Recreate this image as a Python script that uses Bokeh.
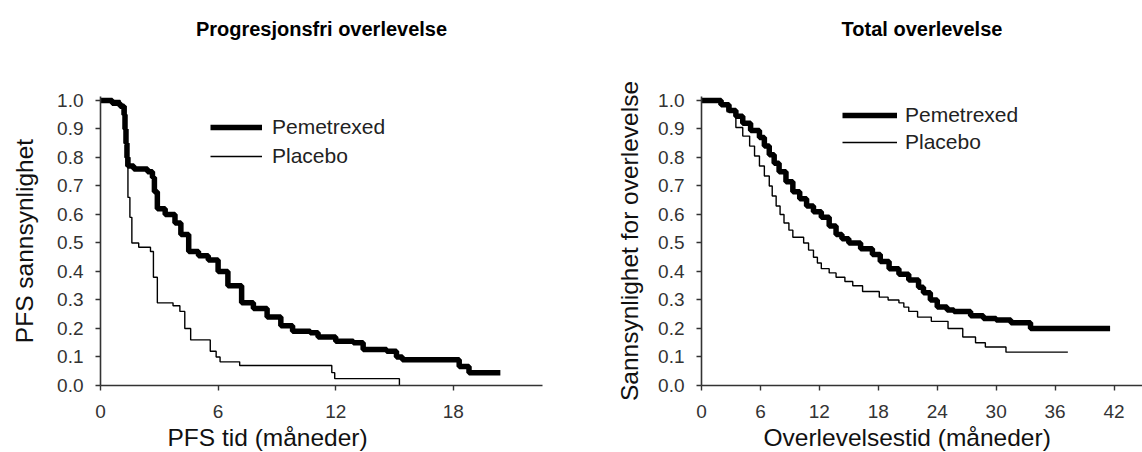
from bokeh.plotting import figure
from bokeh.layouts import row
from bokeh.models import Legend, LegendItem, Range1d, NumeralTickFormatter, Title
from bokeh.embed import file_html
from bokeh.resources import INLINE

# ---------------- data ----------------
# Left panel: progression-free survival
pfs_pem_t = [0, 0.6, 1.0, 1.2, 1.25, 1.3, 1.35, 1.4, 1.7, 2.4, 2.65, 2.75, 2.9, 3.3, 3.8, 4.1, 4.5,
             5.0, 5.5, 6.0, 6.5, 7.2, 7.8, 8.5, 9.2, 9.8, 10.7, 11.1, 12.0, 12.9, 13.4, 14.6, 15.1,
             15.4, 18.3, 18.8, 20.4]
pfs_pem_s = [1.0, 0.99, 0.98, 0.95, 0.90, 0.85, 0.80, 0.77, 0.76, 0.75, 0.73, 0.68, 0.62, 0.60, 0.57,
             0.53, 0.47, 0.455, 0.44, 0.40, 0.35, 0.29, 0.27, 0.24, 0.21, 0.19, 0.185, 0.17, 0.155,
             0.15, 0.126, 0.12, 0.10, 0.09, 0.067, 0.045, 0.045]
pfs_pla_t = [0, 1.0, 1.3, 1.4, 1.5, 1.6, 1.95, 2.55, 2.7, 2.9, 3.7, 4.05, 4.3, 4.6, 5.6, 5.9, 6.1,
             7.1, 11.8, 11.95, 15.25, 15.25]
pfs_pla_s = [1.0, 0.98, 0.77, 0.66, 0.59, 0.50, 0.485, 0.47, 0.38, 0.29, 0.28, 0.26, 0.20, 0.16,
             0.12, 0.10, 0.083, 0.07, 0.045, 0.024, 0.024, 0.0]

# Right panel: overall survival
os_pem_t = [0, 1.5, 2.0, 2.8, 3.5, 4.2, 5.0, 5.9, 6.4, 6.9, 7.4, 7.9, 8.6, 9.3, 10.0, 10.7, 11.4,
            12.2, 13.0, 13.7, 14.3, 15.0, 16.2, 17.4, 18.2, 19.1, 20.1, 21.1, 22.1, 22.6, 23.3,
            24.0, 25.0, 25.7, 27.4, 28.7, 30.0, 31.5, 33.5, 41.6]
os_pem_s = [1.0, 1.0, 0.985, 0.965, 0.945, 0.92, 0.895, 0.87, 0.84, 0.81, 0.78, 0.75, 0.715, 0.68,
            0.655, 0.63, 0.61, 0.59, 0.56, 0.53, 0.515, 0.50, 0.48, 0.46, 0.435, 0.41, 0.39, 0.37,
            0.345, 0.325, 0.30, 0.275, 0.265, 0.26, 0.245, 0.235, 0.23, 0.22, 0.20, 0.20]
os_pla_t = [0, 1.8, 2.6, 3.5, 4.2, 4.9, 5.4, 5.9, 6.4, 6.9, 7.2, 7.6, 8.0, 8.4, 8.9, 9.3, 10.4,
            10.9, 11.4, 11.8, 12.2, 13.0, 13.7, 14.6, 15.4, 16.4, 18.1, 19.0, 20.1, 20.6, 21.1,
            22.0, 23.4, 25.1, 26.6, 27.9, 28.9, 31.0, 37.3]
os_pla_s = [1.0, 0.985, 0.96, 0.905, 0.875, 0.84, 0.805, 0.77, 0.735, 0.70, 0.665, 0.63, 0.60,
            0.57, 0.545, 0.52, 0.50, 0.475, 0.45, 0.43, 0.41, 0.395, 0.38, 0.365, 0.35, 0.33, 0.31,
            0.30, 0.29, 0.275, 0.26, 0.24, 0.225, 0.20, 0.17, 0.15, 0.135, 0.117, 0.117]

y_ticks = [0.0, 0.1, 0.2, 0.3, 0.4, 0.5, 0.6, 0.7, 0.8, 0.9, 1.0]
pfs_x_ticks = [0, 6, 12, 18]
os_x_ticks = [0, 6, 12, 18, 24, 30, 36, 42]
series_names = ["Pemetrexed", "Placebo"]

FONT = "Liberation Sans"


def panel(title, xlab, ylab, x_end, x_ticks, pem_t, pem_s, pla_t, pla_s,
          border_left, border_right, frame_w, title_offset, xlab_offset,
          ylab_standoff, legend_loc, legend_pitch, glyph_w, standoff):
    p = figure(width=border_left + border_right + frame_w, height=452,
               x_range=Range1d(0, x_end), y_range=Range1d(0, 1.014),
               output_backend="svg", toolbar_location=None,
               min_border_left=border_left, min_border_right=border_right,
               min_border_top=96, min_border_bottom=66)
    p.outline_line_color = None
    p.xgrid.visible = False
    p.ygrid.visible = False
    p.background_fill_color = "white"
    p.border_fill_color = "white"

    for ax in (p.xaxis[0], p.yaxis[0]):
        ax.axis_line_color = "#333333"
        ax.axis_line_width = 1.6
        ax.major_tick_line_color = "#333333"
        ax.major_tick_line_width = 1.4
        ax.major_tick_out = 5
        ax.major_tick_in = 0
        ax.minor_tick_line_color = None
        ax.major_label_text_font = FONT
        ax.major_label_text_font_size = "19px"
        ax.major_label_text_color = "#333333"
    p.xaxis.ticker = x_ticks
    p.yaxis.ticker = y_ticks
    p.yaxis.formatter = NumeralTickFormatter(format="0.0")
    p.xaxis.major_label_standoff = 14
    p.yaxis.major_label_standoff = 12

    # y axis label
    p.yaxis.axis_label = ylab
    p.yaxis.axis_label_text_font = FONT
    p.yaxis.axis_label_text_font_size = "24.5px"
    p.yaxis.axis_label_text_font_style = "normal"
    p.yaxis.axis_label_text_color = "#111111"
    p.yaxis.axis_label_standoff = ylab_standoff

    r1 = p.step(pem_t, pem_s, mode="after", line_color="black", line_width=5.5)
    r2 = p.step(pla_t, pla_s, mode="after", line_color="black", line_width=1.4)

    legend = Legend(items=[LegendItem(label=series_names[0], renderers=[r1]),
                           LegendItem(label=series_names[1], renderers=[r2])],
                    location=legend_loc, orientation="vertical",
                    border_line_color=None, background_fill_alpha=0,
                    padding=0, margin=0, spacing=legend_pitch - 24,
                    label_height=24, glyph_height=24, glyph_width=glyph_w,
                    label_standoff=standoff,
                    label_text_font=FONT, label_text_font_size="21px",
                    label_text_color="#222222")
    p.add_layout(legend)

    # default title kept minimal
    p.title.text = ""
    p.title.standoff = 0
    p.title.text_font_size = "1px"
    # spacer (closest to frame) and then the real chart title above it
    p.add_layout(Title(text=" ", text_font_size="1px", standoff=54), "above")
    p.add_layout(Title(text=title, align="center", offset=title_offset, standoff=0,
                       text_font=FONT, text_font_size="20px", text_font_style="bold",
                       text_color="black"), "above")
    # x axis label as a title below the axis, shifted horizontally
    p.add_layout(Title(text=xlab, align="left", offset=xlab_offset, standoff=3,
                       text_font=FONT, text_font_size="24.5px", text_font_style="normal",
                       text_color="#111111"), "below")
    return p


p1 = panel("Progresjonsfri overlevelse", "PFS tid (måneder)", "PFS sannsynlighet",
           22.55, pfs_x_ticks, pfs_pem_t, pfs_pem_s, pfs_pla_t, pfs_pla_s,
           border_left=100, border_right=29, frame_w=442, title_offset=-11, xlab_offset=67,
           ylab_standoff=16, legend_loc=(110, 217), legend_pitch=29,
           glyph_w=52, standoff=10)
p2 = panel("Total overlevelse", "Overlevelsestid (måneder)", "Sannsynlighet for overlevelse",
           44.9, os_x_ticks, os_pem_t, os_pem_s, os_pla_t, os_pla_s,
           border_left=130, border_right=0, frame_w=441, title_offset=-4, xlab_offset=62,
           ylab_standoff=12, legend_loc=(141, 231), legend_pitch=27,
           glyph_w=55, standoff=8)

layout = row(p1, p2)
open("out.html", "w").write(file_html(layout, INLINE))
